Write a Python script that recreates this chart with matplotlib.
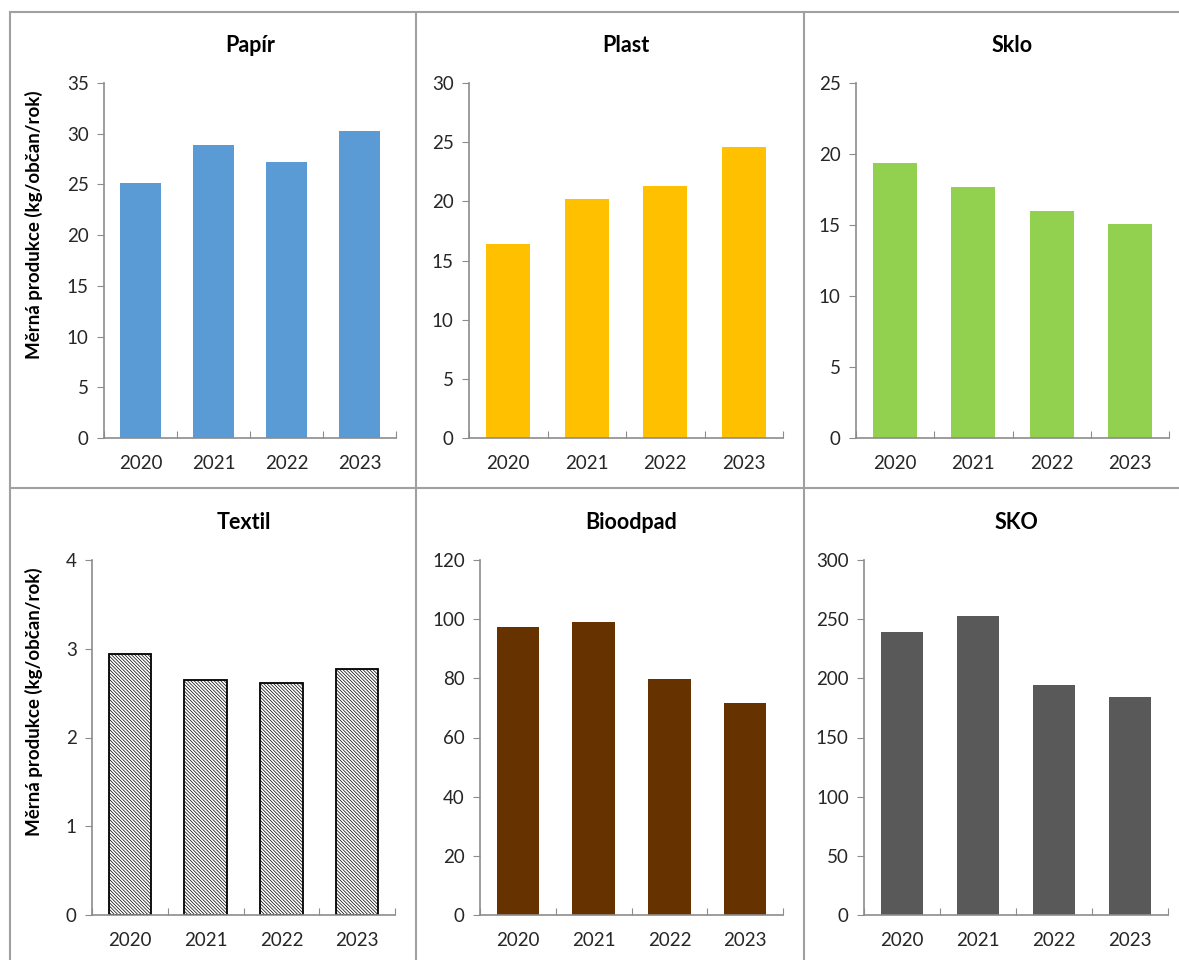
import matplotlib
matplotlib.use('Agg')
import matplotlib.pyplot as plt
from matplotlib.lines import Line2D

plt.rcParams['font.family'] = ['Lato', 'DejaVu Sans']
plt.rcParams['hatch.linewidth'] = 0.5

years = ['2020', '2021', '2022', '2023']

papir = [25.1, 28.9, 27.2, 30.3]
plast = [16.4, 20.2, 21.3, 24.6]
sklo = [19.4, 17.7, 16.0, 15.1]
textil = [2.94, 2.65, 2.61, 2.77]
bioodpad = [97.4, 99.1, 79.8, 71.7]
sko = [239, 253, 194, 184]

ylabel = 'Měrná produkce (kg/občan/rok)'

W, H = 1179, 960
fig = plt.figure(figsize=(W / 100, H / 100), dpi=100)

# (title, values, color, ymax, ystep, pixel box: left, right, top, bottom, ylabel?)
panels = [
    ('Papír', papir, '#5B9BD5', 35, 5, (104, 396, 83, 438), True),
    ('Plast', plast, '#FFC000', 30, 5, (469, 783, 83, 438), False),
    ('Sklo', sklo, '#92D050', 25, 5, (856, 1169, 83, 438), False),
    ('Textil', textil, 'white', 4, 1, (92, 395, 560, 915), True),
    ('Bioodpad', bioodpad, '#663300', 120, 20, (480, 783, 560, 915), False),
    ('SKO', sko, '#595959', 300, 50, (864, 1168, 560, 915), False),
]

axis_col = '#8C8C8C'
text_col = '#262626'

for title, vals, color, ymax, ystep, (l, r, t, b), has_ylabel in panels:
    ax = fig.add_axes([l / W, 1 - b / H, (r - l) / W, (b - t) / H])
    x = range(len(years))
    if title == 'Textil':
        ax.bar(x, vals, 0.56, color='white', edgecolor='black',
               linewidth=1.3, hatch='\\' * 10)
    else:
        ax.bar(x, vals, 0.56, color=color)
    ax.set_xlim(-0.5, 3.5)
    ax.set_ylim(0, ymax)
    ax.set_yticks(range(0, ymax + 1, ystep))
    ax.set_xticks([-0.5, 0.5, 1.5, 2.5, 3.5])
    ax.set_xticklabels([])
    ax.set_xticks(list(x), minor=True)
    ax.set_xticklabels(years, minor=True)
    ax.tick_params(axis='x', which='minor', length=0, pad=12,
                   labelsize=13.5, labelcolor=text_col)
    ax.tick_params(axis='x', which='major', length=5, color=axis_col, direction='in')
    ax.tick_params(axis='y', length=5, color=axis_col, direction='out',
                   labelsize=13.5, labelcolor=text_col, pad=6)
    for s in ['top', 'right']:
        ax.spines[s].set_visible(False)
    for s in ['left', 'bottom']:
        ax.spines[s].set_color(axis_col)
        ax.spines[s].set_linewidth(1.2)
    ax.set_title(title, fontsize=15.5, fontweight='bold', color='black', pad=22)
    if has_ylabel:
        ax.set_ylabel(ylabel, fontsize=13.5, fontweight='bold', color='black')
        # label sits a bit above the axis centre, as in the source sheet
        ax.yaxis.set_label_coords((43 - l) / (r - l), 0.6)

# panel borders
border = '#A0A0A0'
def hline(y, x0, x1):
    fig.add_artist(Line2D([x0 / W, x1 / W], [1 - y / H, 1 - y / H],
                          transform=fig.transFigure, color=border, linewidth=1.5))
def vline(x, y0, y1):
    fig.add_artist(Line2D([x / W, x / W], [1 - y0 / H, 1 - y1 / H],
                          transform=fig.transFigure, color=border, linewidth=1.5))

hline(12, 10, W)
hline(488, 10, W)
vline(10, 12, H)
vline(416, 12, H)
vline(804, 12, H)

fig.savefig('out.png', dpi=100)
